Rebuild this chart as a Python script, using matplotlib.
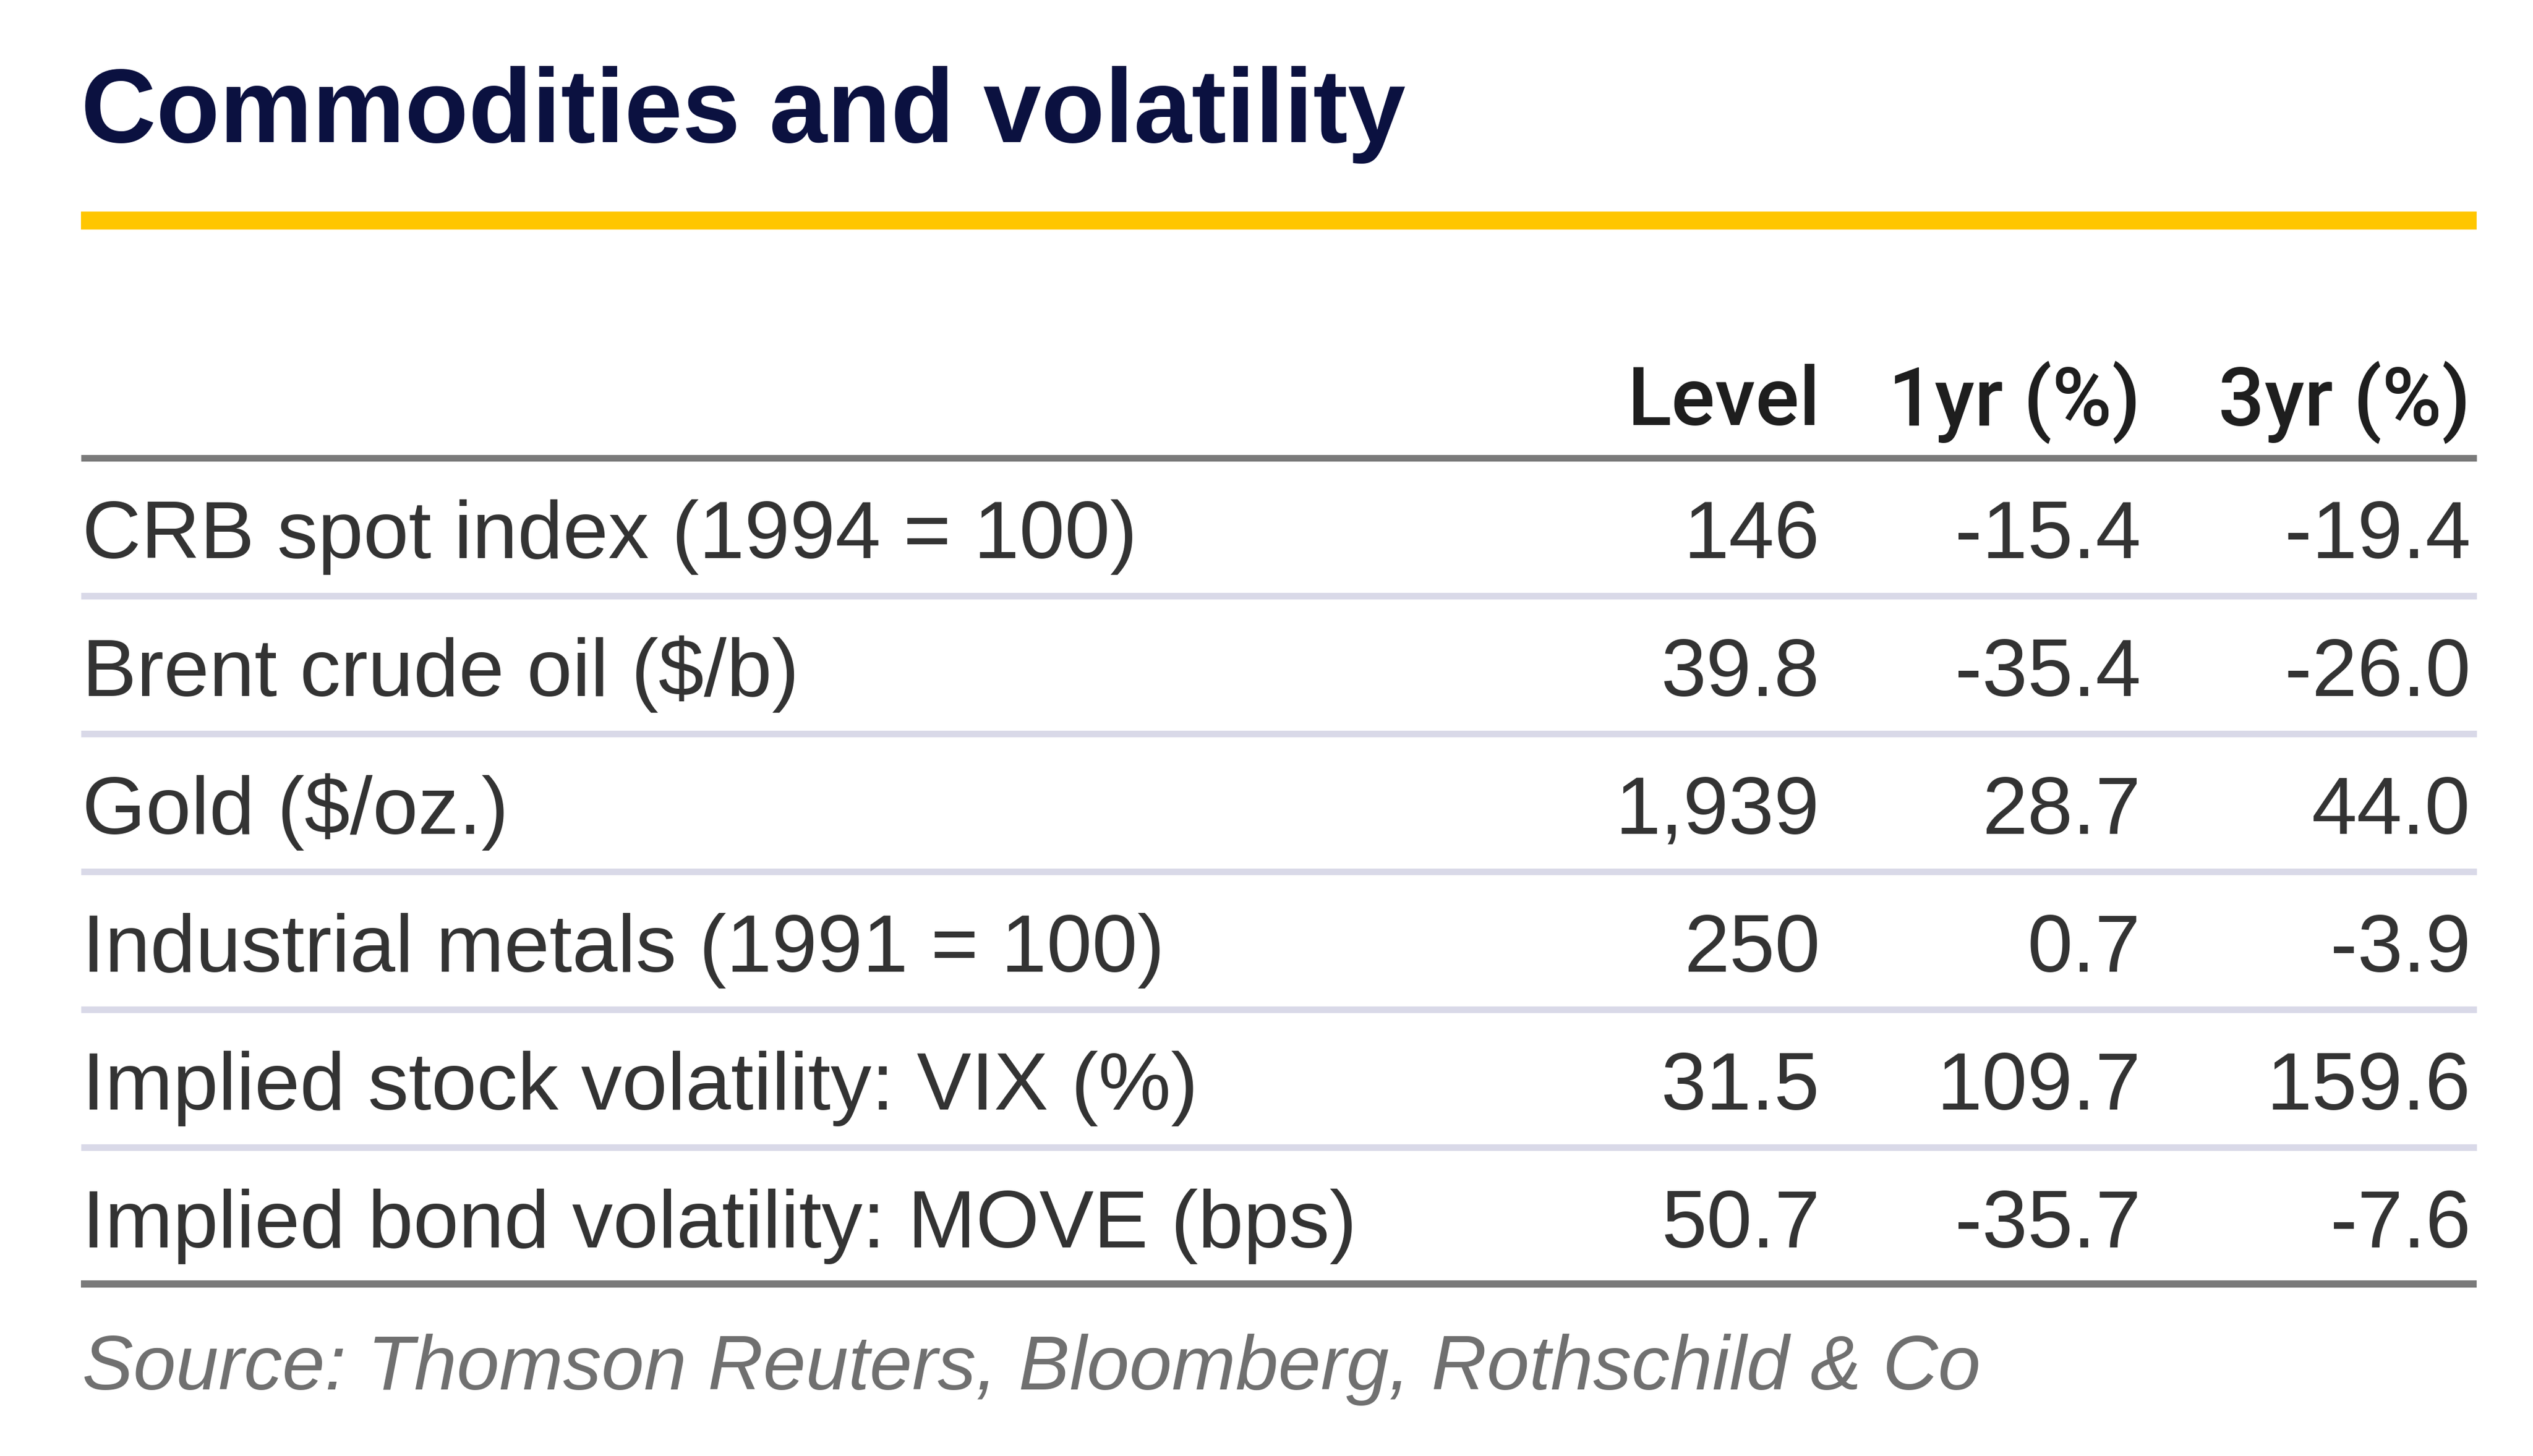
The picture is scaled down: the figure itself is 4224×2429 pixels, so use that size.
import matplotlib
matplotlib.use("Agg")
import matplotlib.pyplot as plt

title = "Commodities and volatility"
headers = ["Level", "1yr (%)", "3yr (%)"]
rows = [
    "CRB spot index (1994 = 100)",
    "Brent crude oil ($/b)",
    "Gold ($/oz.)",
    "Industrial metals (1991 = 100)",
    "Implied stock volatility: VIX (%)",
    "Implied bond volatility: MOVE (bps)",
]
level = [146, 39.8, 1939, 250, 31.5, 50.7]
level_decimals = [0, 1, 0, 0, 1, 1]
chg_1yr = [-15.4, -35.4, 28.7, 0.7, 109.7, -35.7]
chg_3yr = [-19.4, -26.0, 44.0, -3.9, 159.6, -7.6]
source = "Source: Thomson Reuters, Bloomberg, Rothschild & Co"

W, H = 4224, 2429
fig = plt.figure(figsize=(W / 100, H / 100), dpi=100)
ax = fig.add_axes([0, 0, 1, 1])
ax.set_xlim(0, W)
ax.set_ylim(H, 0)
ax.axis("off")

px = 0.72  # pixels -> points
x0, x1 = 135, 4130
col_right = [3035, 3570, 4120]

body_font = "Liberation Sans"
ax.text(x0, 237, title, fontsize=125, fontweight="bold", color="#0b1140",
        family=body_font, ha="left", va="baseline")
ax.hlines(368, x0, x1, color="#ffc600", linewidth=30 * px)

for xr, h in zip(col_right, headers):
    ax.text(xr, 709, h, fontsize=98, color="#1e1e1e", family="Roboto",
            fontweight="medium", ha="right", va="baseline")
ax.hlines(764, x0, x1, color="#7a7a7a", linewidth=11 * px)

pitch = 230
for i, name in enumerate(rows):
    yb = 931 + pitch * i
    ax.text(x0 + 2, yb, name, fontsize=98, color="#333333", family=body_font,
            ha="left", va="baseline")
    vals = [f"{level[i]:,.{level_decimals[i]}f}", f"{chg_1yr[i]:.1f}", f"{chg_3yr[i]:.1f}"]
    for xr, v in zip(col_right, vals):
        ax.text(xr, yb, v, fontsize=98, color="#333333", family=body_font,
                ha="right", va="baseline")
    if i < len(rows) - 1:
        ax.hlines(994 + pitch * i, x0, x1, color="#d9d9e8", linewidth=11 * px)
ax.hlines(2142, x0, x1, color="#7a7a7a", linewidth=12 * px)

ax.text(x0 + 2, 2318, source, fontsize=92, color="#707070", family=body_font,
        style="italic", ha="left", va="baseline")

fig.savefig("out.png", dpi=100, facecolor="white")
